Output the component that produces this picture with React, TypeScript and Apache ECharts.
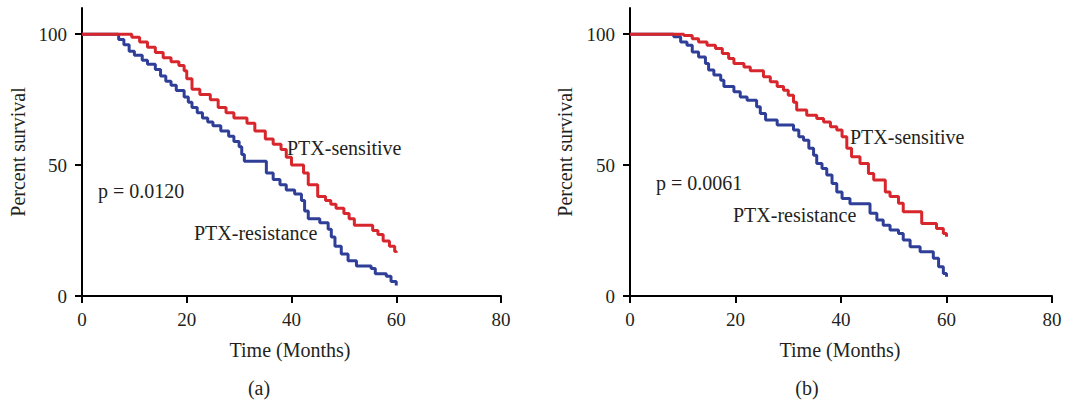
import React, { useEffect, useRef } from "react";
import * as echarts from "echarts";

// ---- Data ----
const xTicks = [0, 20, 40, 60, 80];
const yTicks = [0, 50, 100];

// Panel (a)
const aSensTime = [0, 9.5, 11, 12.5, 14, 15.5, 17, 18.5, 19.5, 20, 21, 22.5, 24.5, 26, 27.5, 29, 31.5, 33, 35, 36.5, 38, 39, 40, 42.3, 43.2, 45, 46.5, 47.5, 48.5, 50, 51, 52, 55.5, 56.5, 57.5, 58.7, 59.7, 60];
const aSensSurv = [100, 98.8, 97, 95, 93, 91, 89.5, 88, 86, 83, 79, 77, 75, 72, 70, 68, 66, 63, 60, 58, 56, 53, 50, 47, 42.5, 38, 36.5, 35, 33.5, 31.5, 29.5, 27, 25, 23.5, 21, 19, 17, 16.5];
const aResTime = [0, 7, 8, 9, 10, 11.5, 12.5, 14, 15, 16, 17, 18, 19.5, 20.3, 21, 22, 23, 24, 25, 26.5, 28, 29, 30, 30.5, 31, 35.2, 36.5, 37.8, 39, 40.6, 41.9, 42.5, 43.2, 45.4, 47, 47.6, 48.3, 49.5, 50.8, 52.4, 55.2, 56, 58.1, 59, 60];
const aResSurv = [100, 98, 96, 93.5, 92, 90, 88.5, 86.5, 84, 82, 80.5, 78.5, 76, 74, 72, 70, 68, 66.5, 65, 63, 61, 59, 57, 54, 51.5, 47, 44.5, 42.5, 40.5, 39, 36.5, 32.5, 29.5, 28, 25.5, 22.5, 19, 16, 13.5, 11.5, 10.5, 8.5, 7.5, 5.5, 4];

// Panel (b)
const bSensTime = [0, 10.2, 11.8, 13, 14.6, 16.2, 17.5, 18.7, 19.7, 21.6, 22.8, 25.3, 26.6, 27.9, 29.1, 30, 31, 31.6, 33.5, 35.4, 36.7, 38, 39.2, 40.2, 41.1, 42, 43.6, 45.2, 46.2, 48.4, 49.3, 50.9, 51.8, 55.3, 58.1, 59.4, 60];
const bSensSurv = [100, 99.5, 98.3, 97, 95.8, 94.5, 92.6, 90.7, 88.8, 87.5, 86, 83.7, 81.8, 80, 78.6, 76.7, 74, 71, 69, 67.8, 66.5, 64.6, 63.4, 60.8, 56.4, 53.2, 50.6, 46.8, 44.3, 39.7, 38, 35.4, 32.2, 27.7, 25.8, 23.9, 22.6];
const bResTime = [0, 8.3, 9.6, 10.8, 11.8, 13, 14.3, 14.9, 15.9, 17.2, 17.8, 19.7, 20.9, 22.2, 24, 24.7, 25.7, 27.9, 31, 32, 32.9, 33.9, 34.8, 35.4, 36.4, 37.3, 38.3, 39.2, 40.2, 41.7, 45.5, 46.8, 48, 49.3, 50.9, 51.8, 53.1, 55, 57.5, 58.5, 59.4, 60];
const bResSurv = [100, 99, 97, 95.8, 93.2, 91.3, 88.8, 86.3, 84.4, 82.4, 80, 78, 76, 74.8, 72.3, 69.7, 67.2, 65.3, 63.4, 60.8, 59.5, 56.4, 53.8, 50.6, 48.7, 46.2, 43, 39.7, 37.2, 35.2, 31.6, 29, 27, 25.2, 23.9, 21.4, 18.8, 16.9, 14.4, 11.2, 8.6, 7.4];

const panelLabels = ["(a)", "(b)"];
const pValues = ["p = 0.0120", "p = 0.0061"];
const seriesNames = ["PTX-sensitive", "PTX-resistance"];

const RED = "#d8262d";
const BLUE = "#2f3f98";
const TEXT = "#231f20";
const FONT = '"Liberation Serif", "Times New Roman", serif';

const zip = (t: number[], v: number[]) => t.map((x, i) => [x, v[i]]);

export default function App() {
  const ref = useRef<HTMLDivElement>(null);
  useEffect(() => {
    if (!ref.current) return;
    const chart = echarts.init(ref.current, null, { renderer: "svg" });

    const mkX = (gi: number) => ({
      type: "value",
      gridIndex: gi,
      min: 0,
      max: 80,
      interval: 20,
      splitLine: { show: false },
      axisLine: { show: true, lineStyle: { color: "#000", width: 2 } },
      axisTick: { show: true, length: 7, lineStyle: { color: "#000", width: 2 } },
      axisLabel: { color: TEXT, fontFamily: FONT, fontSize: 19, margin: 14, customValues: xTicks },
    });
    const mkY = (gi: number) => ({
      type: "value",
      gridIndex: gi,
      min: 0,
      max: 110,
      splitLine: { show: false },
      axisLine: { show: true, lineStyle: { color: "#000", width: 2 } },
      axisTick: { show: true, length: 7, lineStyle: { color: "#000", width: 2 }, customValues: yTicks },
      axisLabel: { color: TEXT, fontFamily: FONT, fontSize: 19, margin: 15, customValues: yTicks },
    });
    const mkLine = (gi: number, data: number[][], color: string, name: string) => ({
      type: "line",
      name,
      xAxisIndex: gi,
      yAxisIndex: gi,
      step: "end",
      data,
      symbol: "none",
      lineStyle: { color, width: 3 },
      z: color === RED ? 3 : 2,
    });
    const txt = (text: string, x: number, y: number, align = "left", size = 20, rotation = 0) => ({
      type: "text",
      x,
      y,
      rotation,
      style: {
        text,
        fill: TEXT,
        font: `${size}px ${FONT}`,
        textAlign: align,
        textVerticalAlign: "middle",
      },
    });

    chart.setOption({
      animation: false,
      backgroundColor: "#fff",
      grid: [
        { left: 82, top: 8, width: 419, height: 288 },
        { left: 630, top: 8, width: 422, height: 288 },
      ],
      xAxis: [mkX(0), mkX(1)],
      yAxis: [mkY(0), mkY(1)],
      series: [
        mkLine(0, zip(aResTime, aResSurv), BLUE, seriesNames[1]),
        mkLine(0, zip(aSensTime, aSensSurv), RED, seriesNames[0]),
        mkLine(1, zip(bResTime, bResSurv), BLUE, seriesNames[1]),
        mkLine(1, zip(bSensTime, bSensSurv), RED, seriesNames[0]),
      ],
      graphic: [
        txt("Percent survival", 18, 152, "center", 20, Math.PI / 2),
        txt("Time (Months)", 290, 350, "center"),
        txt(panelLabels[0], 259, 388, "center"),
        txt(pValues[0], 98, 191),
        txt(seriesNames[0], 287, 148),
        txt(seriesNames[1], 194, 233),
        txt("Percent survival", 565, 152, "center", 20, Math.PI / 2),
        txt("Time (Months)", 840, 350, "center"),
        txt(panelLabels[1], 807, 388, "center"),
        txt(pValues[1], 656, 183),
        txt(seriesNames[0], 850, 137),
        txt(seriesNames[1], 733, 215),
      ],
    });
    return () => chart.dispose();
  }, []);
  return (
    <div
      ref={ref}
      style={{ position: "absolute", left: 0, top: 0, width: 1074, height: 406 }}
    />
  );
}
